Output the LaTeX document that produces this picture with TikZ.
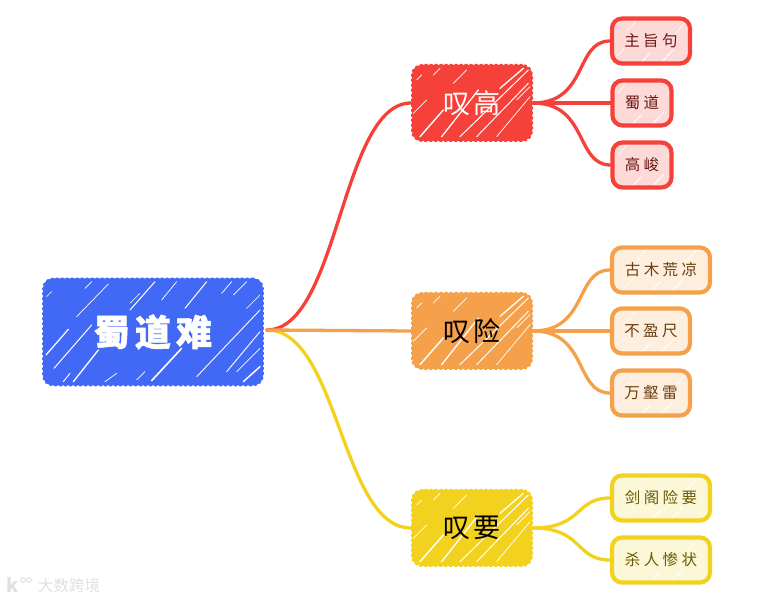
\documentclass[tikz,border=0pt]{standalone}
\usepackage{fontspec}
\setmainfont{Noto Sans CJK SC}
\usetikzlibrary{calc}
\definecolor{cblue}{HTML}{4169F6}
\definecolor{cred}{HTML}{F5413A}
\definecolor{corange}{HTML}{F5A04A}
\definecolor{cyellow}{HTML}{F2D21E}
\definecolor{credpale}{HTML}{FDD9D7}
\definecolor{corangepale}{HTML}{FDEEDD}
\definecolor{cyellowpale}{HTML}{FCF7D6}
\definecolor{credtext}{HTML}{6A1A15}
\definecolor{corangetext}{HTML}{6A3F10}
\definecolor{cyellowtext}{HTML}{6A5A08}
% #1 = scale divisor, #2,#3 = origin of the list, #4 = list x0/y0/x1/y1/width
\newcommand{\hatchlist}[4]{%
  \foreach \a/\b/\c/\d/\w in {#4}{%
    \draw[white,solid,line width=\w pt,line cap=round]
      ($(path picture bounding box.center)+({(\a-#2)/#1},{(\b-#3)/#1})$) --
      ($(path picture bounding box.center)+({(\c-#2)/#1},{(\d-#3)/#1})$);
  }}
\tikzset{
  bumpy/.style={line cap=round,dash pattern=on 1.8pt off 3.2pt,rounded corners=10pt},
  rootbox/.style={bumpy,draw=cblue,fill=cblue,line width=1.6pt,minimum width=220pt,minimum height=107pt,inner sep=0pt,text=white,
    font=\fontsize{36}{40}\selectfont\bfseries\addfontfeature{LetterSpace=14,FakeBold=1.5},
    path picture={\hatchlist{3}{369}{216}{48/285/115/208/1.2,72/325/185/195/1,165/85/185/65/0.7,140/170/235/72/0.7,300/150/375/65/1,395/120/440/65/0.7,465/145/530/65/1,575/100/605/65/0.7,610/105/650/65/0.7,130/365/205/270/1.3,100/365/120/340/0.9,365/362/455/265/1.6,500/350/690/150/0.9,590/335/690/215/0.9,620/335/690/265/0.7,640/365/690/320/1.4,650/145/690/105/0.7,225/365/260/340/0.7,320/360/345/335/0.6,300/130/330/100/0.5,50/110/65/95/0.5}}},
  mainbox/.style={bumpy,draw=#1,fill=#1,line width=2pt,minimum width=120pt,minimum height=76pt,inner sep=0pt,
    font=\fontsize{27}{30}\selectfont\addfontfeature{LetterSpace=10},
    path picture={\hatchlist{3}{216}{309}{60/410/130/330/1.4,125/410/235/270/1.3,180/410/385/210/1,230/410/385/250/1,300/265/370/205/1.3,100/225/120/205/0.8,50/240/65/225/0.7,160/250/200/210/0.7,290/410/390/290/0.7,350/300/390/260/0.7,40/340/80/300/0.6}}},
  leafbox/.style 2 args={draw=#1,fill=#2,line width=4.2pt,rounded corners=10pt,minimum height=45pt,inner sep=0pt,
    font=\fontsize{15.5}{18}\selectfont\addfontfeature{LetterSpace=22},
    path picture={\hatchlist{1}{0}{0}{-11/23/-1/12/1,9/23/22/9/1,25/-8/36/-20/0.7,-34/15/-27/8/0.7,-24/-10/-15/-20/0.6}}},
  link/.style={draw=#1,line width=3.3pt,line cap=round},
}
\begin{document}
\begin{tikzpicture}[x=1pt,y=-1pt]
\useasboundingbox (0,0) rectangle (772,601);
% nodes
\node[rootbox] (root) at (153,332) {蜀道难};
\node[mainbox=cred,text=white] (gao) at (472,103) {叹高};
\node[mainbox=corange,text=black] (xian) at (472,331) {叹险};
\node[mainbox=cyellow,text=black] (yao) at (472,528) {叹要};
\node[leafbox={cred}{credpale},minimum width=78pt,text=credtext] (a1) at (651,41) {主旨句};
\node[leafbox={cred}{credpale},minimum width=59pt,text=credtext] (a2) at (642,103) {蜀道};
\node[leafbox={cred}{credpale},minimum width=59pt,text=credtext] (a3) at (642,165) {高峻};
\node[leafbox={corange}{corangepale},minimum width=98pt,text=corangetext] (b1) at (661,270) {古木荒凉};
\node[leafbox={corange}{corangepale},minimum width=78pt,text=corangetext] (b2) at (651,331) {不盈尺};
\node[leafbox={corange}{corangepale},minimum width=78pt,text=corangetext] (b3) at (651,393) {万壑雷};
\node[leafbox={cyellow}{cyellowpale},minimum width=98pt,text=cyellowtext] (c1) at (661,498) {剑阁险要};
\node[leafbox={cyellow}{cyellowpale},minimum width=98pt,text=cyellowtext] (c2) at (661,560) {杀人惨状};
% connectors
\coordinate (rootout) at ($(root.east)+(3,-2)$);
\draw[link=cyellow] (rootout) .. controls +(72,0) and +(-70,0) .. (yao.west);
\draw[link=cred] (rootout) .. controls +(72,0) and +(-70,0) .. (gao.west);
\draw[link=corange] (rootout) -- (xian.west);
\draw[link=cred] (gao.east) .. controls +(55,0) and +(-35,0) .. (a1.west);
\draw[link=cred] (gao.east) -- (a2.west);
\draw[link=cred] (gao.east) .. controls +(55,0) and +(-35,0) .. (a3.west);
\draw[link=corange] (xian.east) .. controls +(55,0) and +(-35,0) .. (b1.west);
\draw[link=corange] (xian.east) -- (b2.west);
\draw[link=corange] (xian.east) .. controls +(55,0) and +(-35,0) .. (b3.west);
\draw[link=cyellow] (yao.east) .. controls +(50,0) and +(-35,0) .. (c1.west);
\draw[link=cyellow] (yao.east) .. controls +(50,0) and +(-35,0) .. (c2.west);
% watermark
\node[text=black!12,font=\fontsize{15.5}{16}\selectfont,inner sep=0pt] (mark) at (69,586) {大数跨境};
\node[text=black!12,font=\fontsize{19}{20}\selectfont\bfseries,inner sep=0pt] (logo) at (13,585) {k};
\draw[black!12,line width=1pt] (23,580) circle (2.4) (29,580) circle (2.4);
\end{tikzpicture}
\end{document}
